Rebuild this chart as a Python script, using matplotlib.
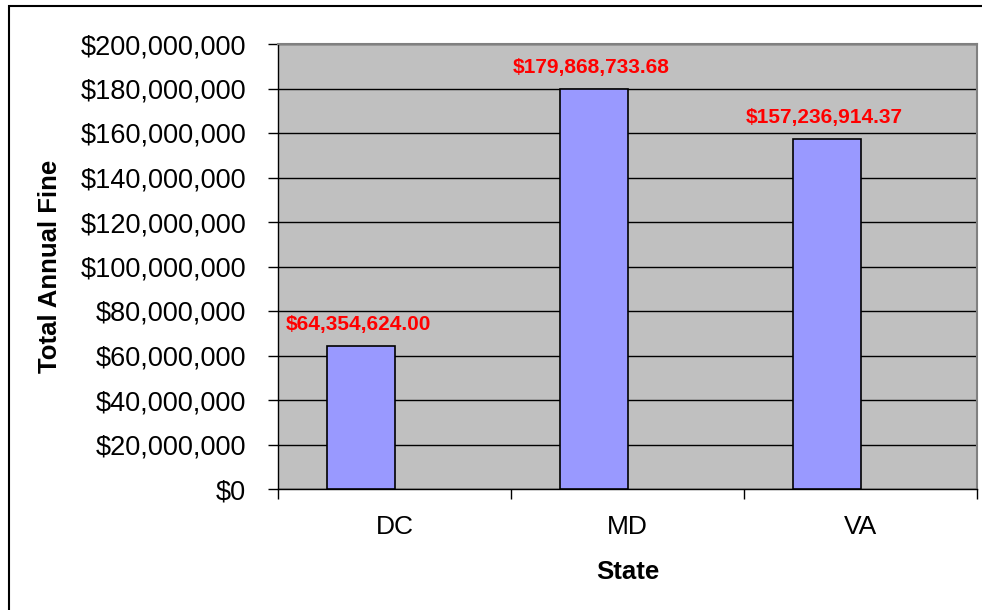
import matplotlib
matplotlib.use('Agg')
import matplotlib.pyplot as plt
from matplotlib.patches import Rectangle
from matplotlib.ticker import FuncFormatter, MultipleLocator
import numpy as np

states = ['DC', 'MD', 'VA']
total_fine = [64354624.00, 179868733.68, 157236914.37]

plt.rcParams['font.family'] = ['Liberation Sans', 'DejaVu Sans']

W, H = 982, 610
fig = plt.figure(figsize=(W / 100, H / 100), dpi=100)
fig.patch.set_facecolor('white')

# chart frame around the whole figure
fig.patches.append(Rectangle((9 / W, -0.1), 1.2, (H - 6) / H + 0.1,
                             transform=fig.transFigure, fill=False,
                             edgecolor='black', linewidth=1.5))

ax = fig.add_axes([278 / W, (H - 489) / H, 699 / W, 445 / H])
ax.set_facecolor('#C0C0C0')

x = np.arange(len(states))
bar_w = 0.288
bars = ax.bar(x - bar_w, total_fine, width=bar_w, align='edge',
              color='#9999FF', edgecolor='black', linewidth=1.2, zorder=3)

for rect, v in zip(bars, total_fine):
    ax.annotate(f'${v:,.2f}', (rect.get_x() + rect.get_width() / 2, v),
                xytext=(-2, 11.5), textcoords='offset points',
                ha='center', va='baseline', color='#FF0000',
                fontsize=15, fontweight='bold', zorder=4)

ax.set_xlim(-0.5, len(states) - 0.5)
ax.set_ylim(0, 200000000)
ax.yaxis.set_major_locator(MultipleLocator(20000000))
ax.yaxis.set_major_formatter(FuncFormatter(lambda v, p: f'${v:,.0f}'))
ax.grid(axis='y', color='black', linewidth=1, zorder=1)
ax.set_axisbelow(True)

ax.set_xticks(x)
ax.set_xticklabels(states)
ax.set_xticks(np.arange(len(states) + 1) - 0.5, minor=True)
ax.tick_params(axis='x', which='major', length=0, pad=19, labelsize=19)
ax.tick_params(axis='x', which='minor', length=7, width=1, direction='out')
ax.tick_params(axis='y', length=7, width=1, direction='out', pad=16,
               labelsize=19.5)

for side in ('top', 'right'):
    ax.spines[side].set_color('#808080')
    ax.spines[side].set_linewidth(1.5)
for side in ('left', 'bottom'):
    ax.spines[side].set_color('black')
    ax.spines[side].set_linewidth(1)

ax.set_xlabel('State', fontsize=18.5, fontweight='bold')
ax.xaxis.label.set_va('center')
ax.xaxis.set_label_coords(0.5, (489 - 572) / 445)
ax.set_ylabel('Total Annual Fine', fontsize=18.5, fontweight='bold')
ax.yaxis.label.set_va('center')
ax.yaxis.set_label_coords((50 - 278) / 699, 0.5)

fig.savefig('out.png', dpi=100)
